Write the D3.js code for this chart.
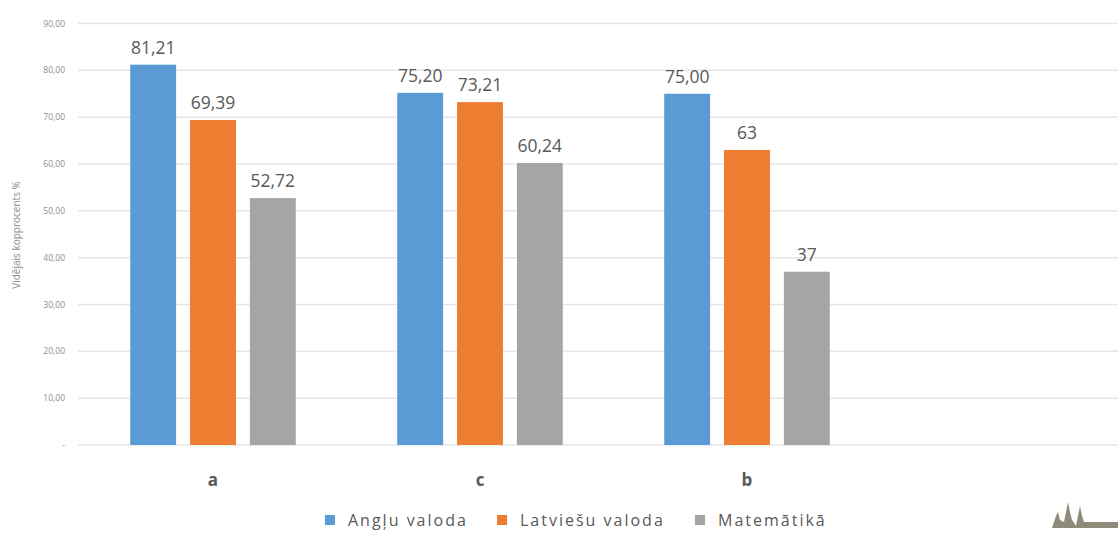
<!DOCTYPE html>
<html>
<head>
<meta charset="utf-8">
<script src="https://cdn.jsdelivr.net/npm/d3@7"></script>
<style>
  body { margin: 0; background: #fff; }
  svg { display: block; font-family: "Open Sans", Lato, sans-serif; }
</style>
</head>
<body>
<script>
// dati
const categories = ["a", "c", "b", ""];
const series = ["Angļu valoda", "Latviešu valoda", "Matemātikā"];
const angluValues = [81.21, 75.20, 75.00];
const latviesuValues = [69.39, 73.21, 63];
const matemValues = [52.72, 60.24, 37];
const angluLabels = ["81,21", "75,20", "75,00"];
const latviesuLabels = ["69,39", "73,21", "63"];
const matemLabels = ["52,72", "60,24", "37"];
const yTicks = [0, 10, 20, 30, 40, 50, 60, 70, 80, 90];
const yTickLabels = ["-", "10,00", "20,00", "30,00", "40,00", "50,00", "60,00", "70,00", "80,00", "90,00"];
const colors = ["#5B9BD5", "#ED7D31", "#A5A5A5"];

const width = 1118, height = 533;

const svg = d3.select("body").append("svg")
  .attr("width", width)
  .attr("height", height);

const y = d3.scaleLinear().domain([0, 90]).range([445, 23.5]);

const x0 = d3.scaleBand().domain(categories).range([79.5, 1147.5]).padding(0);
const bw = x0.bandwidth();
const x1 = d3.scaleBand().domain(series).range([bw * 0.19, bw * 0.81]).paddingInner(0.233);

// režģa līnijas
svg.append("g")
  .selectAll("line")
  .data(yTicks)
  .enter()
  .append("line")
  .attr("x1", 78)
  .attr("x2", width)
  .attr("y1", d => y(d))
  .attr("y2", d => y(d))
  .attr("stroke", "#e6e6e6")
  .attr("stroke-width", 1.5);

// y ass uzraksti
svg.append("g")
  .selectAll("text")
  .data(yTicks)
  .enter()
  .append("text")
  .attr("x", 65)
  .attr("y", d => y(d) + 3)
  .attr("text-anchor", "end")
  .attr("font-size", 8.5)
  .attr("fill", "#8c8c8c")
  .text((d, i) => yTickLabels[i]);

svg.append("text")
  .attr("transform", "translate(20,235) rotate(-90)")
  .attr("text-anchor", "middle")
  .attr("font-size", 10)
  .attr("fill", "#8c8c8c")
  .text("Vidējais kopprocents %");

const rows = [];
categories.slice(0, 3).forEach((c, i) => {
  rows.push({ cat: c, s: series[0], v: angluValues[i], label: angluLabels[i], color: colors[0] });
  rows.push({ cat: c, s: series[1], v: latviesuValues[i], label: latviesuLabels[i], color: colors[1] });
  rows.push({ cat: c, s: series[2], v: matemValues[i], label: matemLabels[i], color: colors[2] });
});

svg.append("g")
  .selectAll("rect")
  .data(rows)
  .enter()
  .append("rect")
  .attr("x", d => x0(d.cat) + x1(d.s))
  .attr("y", d => y(d.v))
  .attr("width", x1.bandwidth())
  .attr("height", d => y(0) - y(d.v))
  .attr("fill", d => d.color);

svg.append("g")
  .selectAll("text")
  .data(rows)
  .enter()
  .append("text")
  .attr("x", d => x0(d.cat) + x1(d.s) + x1.bandwidth() / 2)
  .attr("y", d => y(d.v) - 11)
  .attr("text-anchor", "middle")
  .attr("font-size", 17.5)
  .attr("fill", "#595959")
  .text(d => d.label);

// kategoriju uzraksti
svg.append("g")
  .selectAll("text")
  .data(categories.slice(0, 3))
  .enter()
  .append("text")
  .attr("x", d => x0(d) + bw / 2)
  .attr("y", 486)
  .attr("text-anchor", "middle")
  .attr("font-size", 17)
  .attr("font-weight", "bold")
  .attr("fill", "#595959")
  .text(d => d);

// leģenda
const legendX = [325, 497, 695];
const legend = svg.append("g")
  .selectAll("g")
  .data(series)
  .enter()
  .append("g")
  .attr("transform", (d, i) => `translate(${legendX[i]},515)`);

legend.append("rect")
  .attr("width", 10)
  .attr("height", 10)
  .attr("fill", (d, i) => colors[i]);

legend.append("text")
  .attr("x", 23)
  .attr("y", 11)
  .attr("font-size", 16)
  .attr("letter-spacing", 2)
  .attr("fill", "#595959")
  .text(d => d);

// mazais siluets apakšā labajā stūrī
svg.append("path")
  .attr("d", "M1052,528 L1056,516 L1058,512 L1060,520 L1064,522 L1066,512 L1068,502 L1070,512 L1072,520 L1076,526 L1078,516 L1080,506 L1082,516 L1084,522 L1118,522 L1118,528 Z")
  .attr("fill", "#7d7563")
  .attr("opacity", 0.85);
</script>
</body>
</html>
